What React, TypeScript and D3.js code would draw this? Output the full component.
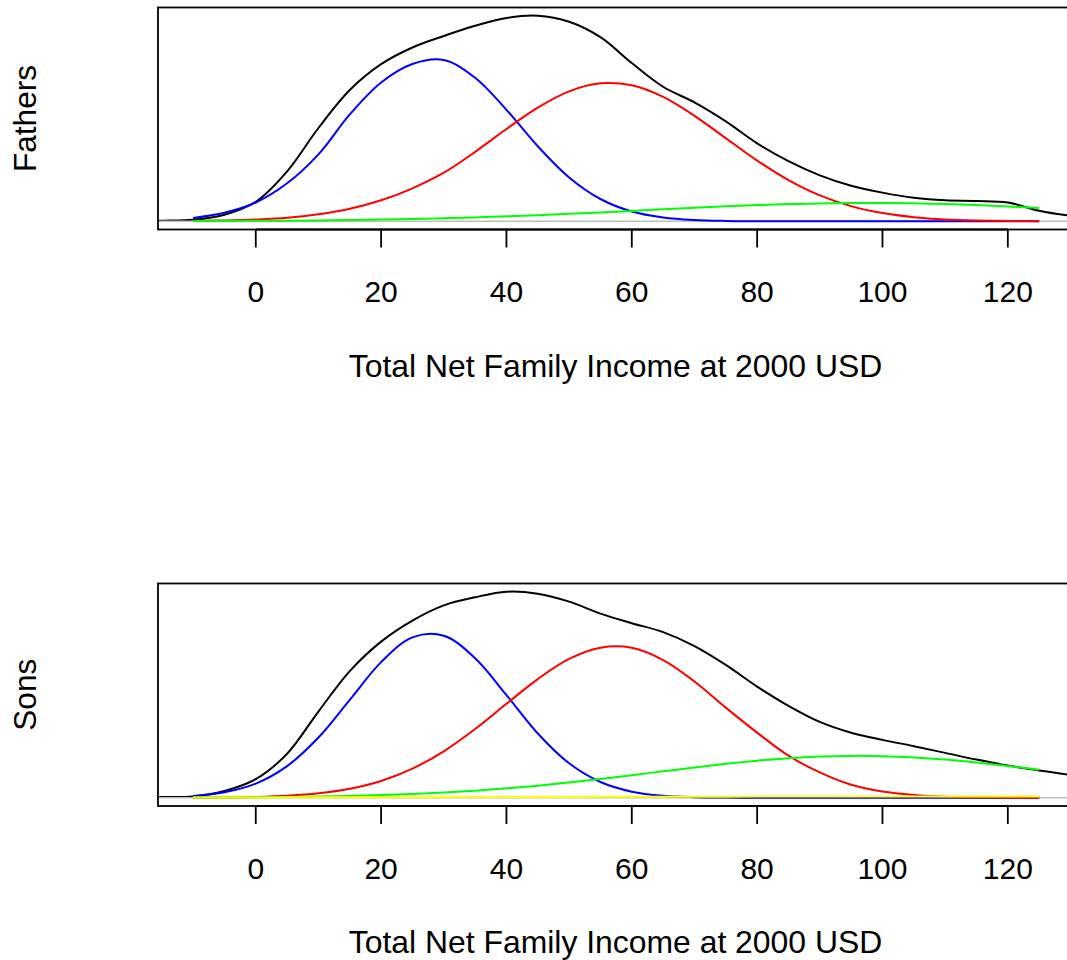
import React, { useEffect } from "react";
import * as d3 from "d3";

// x grid (thousand USD, 2000 prices) for the kernel density (black) and for the mixture components
const kdeX = [-20, -15, -10, -5, 0, 5, 10, 15, 20, 25, 30, 35, 40, 45, 50, 55, 60, 65, 70, 75, 80, 85, 90, 95, 100, 105, 110, 115, 120, 125, 130, 135];
const compX = [-10, -5, 0, 5, 10, 15, 20, 25, 30, 35, 40, 45, 50, 55, 60, 65, 70, 75, 80, 85, 90, 95, 100, 105, 110, 115, 120, 125];

// relative density (the original has no y axis)
const fathersKde = [0.1, 0.6, 1.5, 6.5, 19.5, 50, 93.4, 131.4, 157.3, 174, 185.5, 195.7, 203.5, 205.8, 199.8, 184.4, 158.4, 134.7, 119, 100, 78, 60.2, 46, 35.6, 28.7, 23.6, 21, 20.3, 18.8, 10.5, 5.5, 2.8];
const fathersBlue = [3.3, 8.5, 18.8, 38, 67, 107, 139, 157.5, 161.5, 143.7, 111.6, 75.1, 43.9, 22.3, 9.8, 3.8, 1.25, 0.35, 0.1, 0.03, 0, 0, 0, 0, 0, 0, 0, 0];
const fathersRed = [0.4, 0.9, 1.8, 3.5, 7, 12.5, 21, 33, 48.6, 69.5, 92.4, 113.8, 130.1, 138.1, 136.1, 124.5, 105.6, 83.2, 60.8, 41.3, 26, 15.2, 8.2, 4.1, 1.9, 0.84, 0.34, 0.13];
const fathersGreen = [0.19, 0.29, 0.43, 0.62, 0.88, 1.24, 1.69, 2.28, 3.0, 3.88, 4.92, 6.1, 7.45, 8.9, 10.4, 12.0, 13.5, 15.0, 16.2, 17.2, 17.9, 18.3, 18.4, 18.0, 17.3, 16.2, 14.8, 13.3];

const sonsKde = [0.1, 0.7, 1.3, 6.8, 18.6, 44, 86.1, 126.5, 155.9, 176.9, 192.1, 200.2, 205.7, 203.7, 195.8, 183.9, 174.3, 165.4, 151.5, 132.7, 111, 91.8, 75.7, 64.9, 57.8, 51.5, 44.8, 38.1, 32.1, 27.3, 22.6, 18.5];
const sonsBlue = [1.76, 5.4, 14.1, 31.6, 60.1, 97.7, 135.4, 160.2, 161.8, 139.3, 102.5, 64.2, 34.4, 15.7, 6.1, 2.0, 0.58, 0.14, 0.03, 0, 0, 0, 0, 0, 0, 0, 0, 0];
const sonsRed = [0.12, 0.34, 0.86, 2.04, 4.45, 9.0, 16.8, 29.1, 46.4, 68.6, 93.8, 118.5, 138.6, 149.8, 149.7, 137.5, 116.1, 90.0, 65, 42.0, 25.3, 13, 6.2, 2.8, 1.1, 0.4, 0.15, 0.05];
const sonsGreen = [0.2, 0.32, 0.52, 0.81, 1.23, 1.84, 2.67, 3.79, 5.25, 7.1, 9.4, 12.1, 15.3, 18.8, 22.5, 26.4, 30.3, 33.9, 37.0, 39.5, 41.1, 41.8, 41.5, 40.2, 38.1, 35.2, 31.8, 28.0];
const sonsYellow = [0.3, 0.3, 0.35, 0.4, 0.45, 0.5, 0.55, 0.6, 0.65, 0.7, 0.75, 0.8, 0.85, 0.9, 0.95, 1.0, 1.05, 1.1, 1.15, 1.2, 1.2, 1.25, 1.25, 1.3, 1.3, 1.3, 1.3, 1.3];

const xTicks = [0, 20, 40, 60, 80, 100, 120];
const xLabel = "Total Net Family Income at 2000 USD";

const W = 1067;
const H = 960;
const FONT = "'Liberation Sans', Arial, Helvetica, sans-serif";
const left = 158;
const right = 1073;

const x = d3.scaleLinear().domain([-15.6, 130.4]).range([left, right]);

type Comp = { values: number[]; color: string };

const Panel = ({ id, top, bottom, title, kde, comps }: { id: string; top: number; bottom: number; title: string; kde: number[]; comps: Comp[] }) => {
  const max = d3.max(kde) as number;
  const y = d3
    .scaleLinear()
    .domain([-0.04 * max, 1.04 * max])
    .range([bottom, top]);

  const line = d3
    .line<number>()
    .x((_, i) => x(kdeX[i]))
    .y((d) => y(d))
    .curve(d3.curveCatmullRom.alpha(0.5));

  const compLine = d3
    .line<number>()
    .x((_, i) => x(compX[i]))
    .y((d) => y(d))
    .curve(d3.curveCatmullRom.alpha(0.5));

  const tickLen = 18;

  return (
    <g>
      <defs>
        <clipPath id={id}>
          <rect x={left} y={top} width={right - left} height={bottom - top} />
        </clipPath>
      </defs>
      <g clipPath={`url(#${id})`}>
        <path d={line(kde) || ""} fill="none" stroke="#000" strokeWidth={2} />
        <line x1={left} x2={right} y1={y(0)} y2={y(0)} stroke="#bebebe" strokeWidth={1.5} />
        {comps.map((c, i) => (
          <path key={i} d={compLine(c.values) || ""} fill="none" stroke={c.color} strokeWidth={2} />
        ))}
      </g>
      <rect x={left} y={top} width={right - left} height={bottom - top} fill="none" stroke="#000" strokeWidth={1.8} />
      <line x1={x(0)} x2={x(120)} y1={bottom} y2={bottom} stroke="#000" strokeWidth={1.8} />
      {xTicks.map((t) => (
        <g key={t}>
          <line x1={x(t)} x2={x(t)} y1={bottom} y2={bottom + tickLen} stroke="#000" strokeWidth={1.8} />
          <text x={x(t)} y={bottom + 72.5} textAnchor="middle" fontSize={30} fontFamily={FONT} fill="#000">
            {t}
          </text>
        </g>
      ))}
      <text x={(left + right) / 2} y={bottom + 147} textAnchor="middle" fontSize={31.9} fontFamily={FONT} fill="#000">
        {xLabel}
      </text>
      <text
        transform={`translate(36,${(top + bottom) / 2}) rotate(-90)`}
        textAnchor="middle"
        fontSize={31.6}
        fontFamily={FONT}
        fill="#000"
      >
        {title}
      </text>
    </g>
  );
};

export default function App() {
  useEffect(() => {
    document.body.style.margin = "0";
  }, []);

  return (
    <svg width={W} height={H} style={{ display: "block", background: "#fff" }}>
      <rect width={W} height={H} fill="#fff" />
      <Panel
        id="clip-fathers"
        top={7.5}
        bottom={229.5}
        title="Fathers"
        kde={fathersKde}
        comps={[
          { values: fathersBlue, color: "#0000ff" },
          { values: fathersRed, color: "#ff0000" },
          { values: fathersGreen, color: "#00ff00" },
        ]}
      />
      <Panel
        id="clip-sons"
        top={583.5}
        bottom={806}
        title="Sons"
        kde={sonsKde}
        comps={[
          { values: sonsBlue, color: "#0000ff" },
          { values: sonsRed, color: "#ff0000" },
          { values: sonsGreen, color: "#00ff00" },
          { values: sonsYellow, color: "#ffff00" },
        ]}
      />
    </svg>
  );
}
